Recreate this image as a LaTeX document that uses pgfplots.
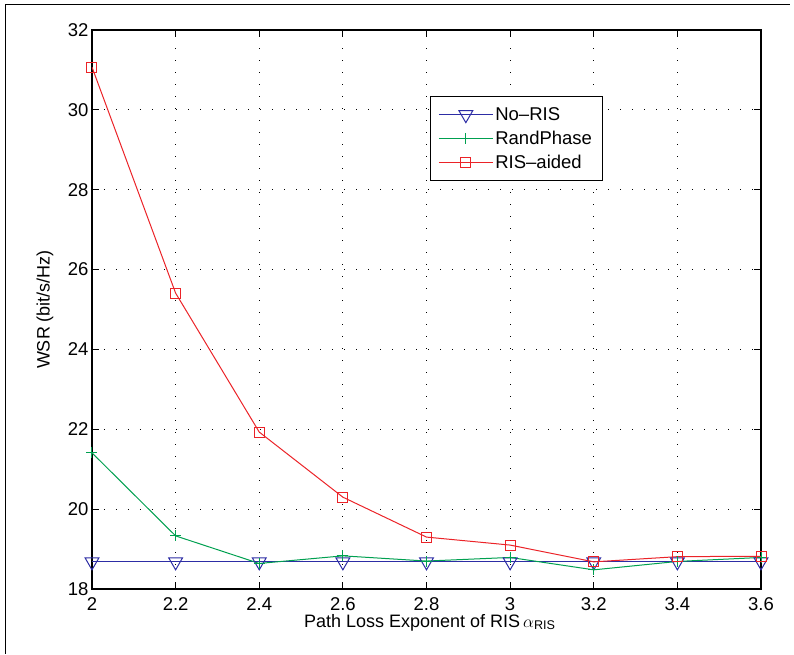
\documentclass[border=0pt]{standalone}
\usepackage{fontspec}
\setmainfont{Liberation Sans}
\usepackage{pgfplots}
\pgfplotsset{compat=1.18}

\definecolor{norisblue}{RGB}{45,45,165}
\definecolor{randgreen}{RGB}{0,160,80}
\definecolor{risred}{RGB}{235,35,40}

\begin{document}
\begin{tikzpicture}
\begin{axis}[
  name=ax,
  scale only axis,
  width=669pt, height=559pt,
  xmin=2, xmax=3.6,
  ymin=18, ymax=32,
  xtick={2,2.2,2.4,2.6,2.8,3,3.2,3.4,3.6},
  ytick={18,20,22,24,26,28,30,32},
  xticklabels={2,2.2,2.4,2.6,2.8,3,3.2,3.4,3.6},
  yticklabels={18,20,22,24,26,28,30,32},
  tick align=inside,
  major tick length=7pt,
  tick style={black, line width=0.8pt},
  axis line style={black, line width=1.3pt},
  grid=major,
  major grid style={black, line width=0.9pt, dash pattern=on 1pt off 11pt},
  ticklabel style={font=\fontsize{18.5}{18.5}\selectfont},
  /pgf/number format/assume math mode=true,
  x tick label style={yshift=-5pt},
  xlabel={Path Loss Exponent of RIS\,$\alpha$\textsubscript{RIS}},
  ylabel={WSR (bit/s/Hz)},
  label style={font=\fontsize{18}{18}\selectfont},
  xlabel style={at={(axis description cs:0.505,-0.068)}, anchor=base},
  ylabel style={at={(axis description cs:-0.0703,0.5)}, anchor=center},
  legend style={at={(0.505,0.882)}, anchor=north west,
    draw=black, line width=1pt, font=\fontsize{18.5}{18.5}\selectfont,
    inner xsep=8pt, inner ysep=9pt, row sep=5pt, cells={anchor=west}},
  legend cell align=left,
  legend image code/.code={
    \draw[mark repeat=2,mark phase=2] plot coordinates {(0pt,0pt) (27pt,0pt) (54pt,0pt)};},
]
\addplot[norisblue, line width=1pt, mark=triangle, mark size=8pt,
  mark options={rotate=180, solid, line width=1pt}] coordinates {
  (2,18.68) (2.2,18.68) (2.4,18.68) (2.6,18.68) (2.8,18.68) (3,18.68) (3.2,18.68) (3.4,18.68) (3.6,18.68)
};
\addlegendentry{No\textendash RIS}
\addplot[randgreen, line width=1pt, mark=+, mark size=5.5pt,
  mark options={line width=1pt}] coordinates {
  (2,21.41) (2.2,19.33) (2.4,18.64) (2.6,18.83) (2.8,18.70) (3,18.79) (3.2,18.48) (3.4,18.69) (3.6,18.79)
};
\addlegendentry{RandPhase}
\addplot[risred, line width=1pt, mark=square, mark size=5pt,
  mark options={line width=1pt}] coordinates {
  (2,31.07) (2.2,25.41) (2.4,21.93) (2.6,20.30) (2.8,19.30) (3,19.10) (3.2,18.68) (3.4,18.81) (3.6,18.82)
};
\addlegendentry{RIS\textendash aided}
\end{axis}
\draw[line width=1pt] ([shift={(-86pt,-65pt)}]ax.south west) |- ([shift={(29pt,25pt)}]ax.north east);
\path[use as bounding box] ([shift={(-92pt,-65pt)}]ax.south west) rectangle ([shift={(33pt,30pt)}]ax.north east);
\end{tikzpicture}
\end{document}
